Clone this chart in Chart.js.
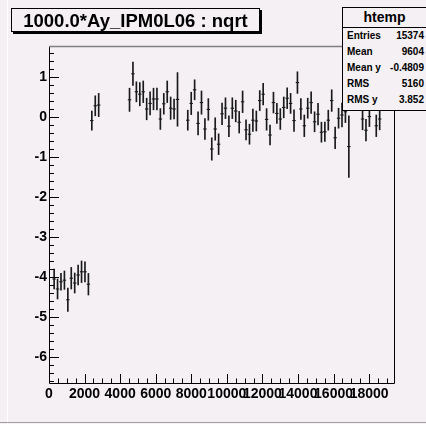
<!DOCTYPE html>
<html><head><meta charset="utf-8">
<script src="https://cdn.jsdelivr.net/npm/chart.js@4.4.1/dist/chart.umd.min.js"></script>
<style>
html,body{margin:0;padding:0;background:#f4f0f4;}
#wrap{position:relative;width:426px;height:424px;overflow:hidden;background:#f4f0f4;font-family:"Liberation Sans",Arial,sans-serif;}
canvas{position:absolute;left:0;top:0;}
#lline{position:absolute;left:7px;top:0;width:1px;height:424px;background:#ffffff;}
#bline{position:absolute;left:0;top:422px;width:426px;height:1px;background:#a0a0a0;}
#title{position:absolute;left:11px;top:8px;width:247px;height:22px;border:1px solid #000;box-shadow:2px 2px 0 #000;background:#f4f0f4;font-weight:bold;font-size:18.5px;line-height:23px;text-align:center;white-space:nowrap;}
#stats{position:absolute;left:342px;top:7px;width:83px;height:102px;border:1px solid #000;background:#f4f0f4;font-weight:bold;font-size:10px;}
#stats .hd{height:19px;border-bottom:1px solid #000;text-align:center;font-size:14px;line-height:19px;}
#stats .row{position:relative;height:16px;line-height:16px;}
#stats .row .k{position:absolute;left:4px;}
#stats .row .v{position:absolute;right:2px;}
</style></head>
<body>
<div id="wrap">
<canvas id="c" width="426" height="424"></canvas>
<div id="lline"></div><div id="bline"></div>
<div id="title">1000.0*Ay_IPM0L06 : nqrt</div>
<div id="stats"><div class="hd">htemp</div></div>
</div>
<script>
// bin centres (x)
const xs = [289,481,674,867,1060,1252,1445,1638,1830,2023,2216,
  2408,2601,2794,
  4528,4721,4914,5106,5299,5492,5684,5877,6070,6262,6455,6648,6841,7033,7226,
  7804,7997,8189,8382,8575,8768,8960,9153,9346,9538,9731,9924,10116,10309,10502,10695,10887,11080,11273,11465,11658,11851,12043,12236,12429,12622,12814,13007,13200,13392,
  13585,13778,13970,14163,14356,14549,14741,14934,15127,15319,15512,15705,15897,16090,16283,16476,16668,16861,
  17632,17824,18017,18403,18595];
// profile mean values
const ys = [-4.05,-4.3,-4.12,-4.08,-4.57,-4.03,-4.15,-3.95,-3.87,-3.87,-4.18,
  -0.09,0.28,0.30,
  0.43,1.08,0.63,0.57,0.63,0.20,0.34,0.45,0.45,-0.05,0.33,0.63,0.22,0.20,0.44,
  -0.08,0.34,0.68,-0.16,0.36,-0.30,0.19,-0.80,-0.30,-0.68,0.08,0.22,-0.23,0.22,0.15,-0.13,0.38,-0.32,-0.43,-0.08,-0.10,0.41,0.57,-0.06,-0.45,0.36,0.09,-0.05,0.24,0.47,
  0.34,-0.09,0.86,0.20,-0.22,0.22,0.36,-0.12,0.07,-0.38,-0.37,-0.08,0.41,-0.52,-0.03,0.05,0.13,-0.74,
  -0.05,-0.33,0.01,-0.22,-0.05];
// errors on the mean
const errs = [0.25,0.25,0.21,0.23,0.29,0.27,0.25,0.25,0.27,0.25,0.27,
  0.24,0.25,0.29,
  0.29,0.29,0.25,0.29,0.27,0.27,0.29,0.27,0.27,0.26,0.26,0.27,0.28,0.25,0.67,
  0.25,0.28,0.25,0.29,0.29,0.26,0.27,0.28,0.28,0.26,0.27,0.26,0.26,0.26,0.27,0.27,0.27,0.25,0.25,0.28,0.25,0.25,0.27,0.27,0.25,0.26,0.25,0.26,0.26,0.26,
  0.25,0.27,0.27,0.26,0.27,0.25,0.27,0.25,0.27,0.25,0.24,0.25,0.27,0.27,0.25,0.30,0.27,0.77,
  0.27,0.27,0.25,0.27,0.27];
const xTicks = [0,2000,4000,6000,8000,10000,12000,14000,16000,18000];
const yTicks = [-6,-5,-4,-3,-2,-1,0,1];
const statNames = ["Entries","Mean","Mean y","RMS","RMS y"];
const statValues = ["15374","9604","-0.4809","5160","3.852"];

const st = document.getElementById('stats');
statNames.forEach((n,i)=>{
  const r=document.createElement('div'); r.className='row';
  r.innerHTML='<span class="k">'+n+'</span><span class="v">'+statValues[i]+'</span>';
  st.appendChild(r);
});

const FONT = "'Liberation Sans', Arial, sans-serif";
const rootAxes = {
  id:'rootAxes',
  afterDatasetsDraw(chart){
    const {ctx, chartArea:a, scales:{x,y}} = chart;
    ctx.save();
    ctx.lineWidth=1; ctx.strokeStyle='#000';
    ctx.beginPath();
    ctx.moveTo(a.left+0.5,a.top); ctx.lineTo(a.left+0.5,a.bottom+0.5); ctx.lineTo(a.right+0.5,a.bottom+0.5); ctx.lineTo(a.right+0.5,a.top);
    ctx.stroke();
    ctx.strokeStyle='#808080'; ctx.lineWidth=1.5;
    ctx.beginPath(); ctx.moveTo(a.left,a.top+0.5); ctx.lineTo(a.right+1,a.top+0.5); ctx.stroke();
    ctx.strokeStyle='#000'; ctx.lineWidth=1;
    ctx.beginPath();
    for(let k=Math.ceil(y.min*5);k<=Math.floor(y.max*5);k++){
      const py=Math.round(y.getPixelForValue(k/5))+0.5;
      const len = (k%5===0)?10:5;
      ctx.moveTo(a.left,py); ctx.lineTo(a.left+len,py);
    }
    for(let k=0;k<=Math.floor(x.max/500);k++){
      const px=Math.round(x.getPixelForValue(k*500))+0.5;
      const len = (k%4===0)?9:4.5;
      ctx.moveTo(px,a.bottom); ctx.lineTo(px,a.bottom-len);
    }
    ctx.stroke();
    ctx.restore();
  }
};

new Chart(document.getElementById('c'),{
  type:'bar',
  data:{datasets:[
    {type:'bar', data: xs.map((v,i)=>({x:v, y:[ys[i]-errs[i], ys[i]+errs[i]]})),
     backgroundColor:'#1a1a1a', borderWidth:0, barThickness:1, grouped:false},
    {type:'scatter', data: xs.map((v,i)=>({x:v, y:ys[i]})),
     pointStyle:'line', pointRadius:1.7, borderColor:'#000', backgroundColor:'#000', borderWidth:1, showLine:false}
  ]},
  options:{
    responsive:false, animation:false, devicePixelRatio:1,
    layout:{padding:{left:0,top:46,right:32,bottom:0}},
    plugins:{legend:{display:false}, tooltip:{enabled:false}},
    scales:{
      x:{type:'linear', min:0, max:19400, offset:false,
         afterBuildTicks(s){ s.ticks = xTicks.map(v=>({value:v})); },
         ticks:{font:{family:FONT,size:14,weight:'bold'}, color:'#000', padding:3, maxRotation:0, minRotation:0, autoSkip:false, callback:v=>String(v)},
         grid:{display:false, drawTicks:false}, border:{display:false},
         afterFit(s){ s.height=41; }},
      y:{type:'linear', min:-6.65, max:1.775,
         afterBuildTicks(s){ s.ticks = yTicks.map(v=>({value:v})); },
         ticks:{font:{family:FONT,size:14,weight:'bold'}, color:'#000', padding:2, callback:v=>String(v)},
         grid:{display:false, drawTicks:false}, border:{display:false},
         afterFit(s){ s.width=49; }}
    }
  },
  plugins:[rootAxes]
});
</script>
</body></html>
